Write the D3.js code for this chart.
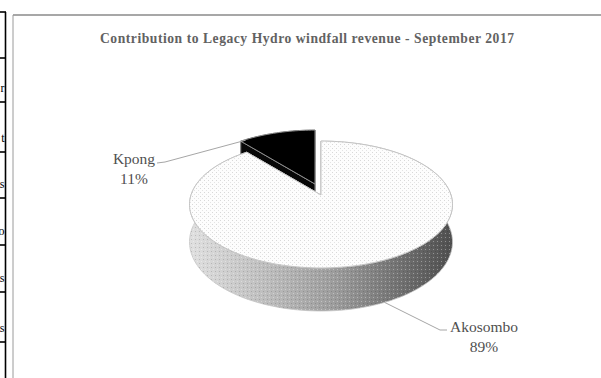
<!DOCTYPE html>
<html>
<head>
<meta charset="utf-8">
<script src="https://cdn.jsdelivr.net/npm/d3@7"></script>
<style>
  body { margin: 0; background: #fff; }
  svg { display: block; }
</style>
</head>
<body>
<script>
//chart data
var categories = ["Akosombo", "Kpong"];
var shares = [89, 11];
var shareLabels = ["89%", "11%"];
var title = "Contribution to Legacy Hydro windfall revenue - September 2017";

//table edge on the left of the page (cut off letters)
var tableRows = [12, 58, 102, 152, 198, 245, 292, 342];
var tableLetters = ["r", "t", "s", "o", "s", "s"];

window.onload = drawChart();

function drawChart(){

    var width = 601,
        height = 378;

    var svg = d3.select('body')
        .append('svg')
        .attr('width', width)
        .attr('height', height);

    var defs = svg.append('defs');

    //dotted pattern like the office fill
    var dots = defs.append('pattern')
        .attr('id', 'dots')
        .attr('width', 4)
        .attr('height', 4)
        .attr('patternUnits', 'userSpaceOnUse');
    dots.append('rect').attr('width', 4).attr('height', 4).attr('fill', '#fdfdfd');
    dots.append('rect').attr('x', 0).attr('y', 0).attr('width', 1).attr('height', 1).attr('fill', '#d8d8d8');
    dots.append('rect').attr('x', 2).attr('y', 2).attr('width', 1).attr('height', 1).attr('fill', '#e4e4e4');

    var dotsDark = defs.append('pattern')
        .attr('id', 'dotsDark')
        .attr('width', 4)
        .attr('height', 4)
        .attr('patternUnits', 'userSpaceOnUse');
    dotsDark.append('rect').attr('x', 1).attr('y', 1).attr('width', 1).attr('height', 1).attr('fill', '#ffffff').attr('opacity', 0.35);
    dotsDark.append('rect').attr('x', 3).attr('y', 3).attr('width', 1).attr('height', 1).attr('fill', '#000000').attr('opacity', 0.15);

    //side shading
    var grad = defs.append('linearGradient')
        .attr('id', 'sideGrad')
        .attr('gradientUnits', 'userSpaceOnUse')
        .attr('x1', 190).attr('x2', 455)
        .attr('y1', 0).attr('y2', 0);
    [[0, '#e0e0e0'], [0.3, '#bcbcbc'], [0.55, '#9c9c9c'], [0.8, '#707070'], [1, '#4d4d4d']].forEach(function(s){
        grad.append('stop').attr('offset', s[0]).attr('stop-color', s[1]);
    });

    //left table edge
    svg.append('line')
        .attr('x1', 5.5).attr('x2', 5.5)
        .attr('y1', tableRows[0]).attr('y2', height)
        .attr('stroke', '#000').attr('stroke-width', 1.6);
    svg.selectAll('.rowLine')
        .data(tableRows)
        .enter()
        .append('line')
        .attr('x1', 0).attr('x2', 6)
        .attr('y1', function(d){ return d; })
        .attr('y2', function(d){ return d; })
        .attr('stroke', '#000').attr('stroke-width', 1.6);
    svg.selectAll('.rowText')
        .data(tableLetters)
        .enter()
        .append('text')
        .attr('x', 4.5)
        .attr('y', function(d, i){ return tableRows[i + 2] - 10; })
        .attr('text-anchor', 'end')
        .attr('font-family', 'Liberation Serif, serif')
        .attr('font-size', 12)
        .attr('fill', '#000')
        .text(function(d){ return d; });

    //chart frame
    svg.append('line')
        .attr('x1', 13).attr('x2', width)
        .attr('y1', 15).attr('y2', 15)
        .attr('stroke', '#8a8a8a').attr('stroke-width', 1.6);
    svg.append('line')
        .attr('x1', 13).attr('x2', 13)
        .attr('y1', 15).attr('y2', height)
        .attr('stroke', '#9a9a9a').attr('stroke-width', 1);

    //title
    svg.append('text')
        .attr('x', 307)
        .attr('y', 43)
        .attr('text-anchor', 'middle')
        .attr('font-family', 'Liberation Serif, serif')
        .attr('font-weight', 'bold')
        .attr('font-size', 13.6)
        .attr('textLength', 414)
        .attr('lengthAdjust', 'spacing')
        .attr('fill', '#626262')
        .text(title);

    //3d pie projection
    var cx = 321, cy = 195, rx = 130, ry = 62, depth = 36.6, persp = 0.15;
    function proj(theta, r, h){
        var u = r * Math.sin(theta),
            v = -r * Math.cos(theta);
        var s = 1 / (1 - persp * v);
        return [cx + rx * u * s, cy + (ry * v + depth * h) * s];
    }

    var pie = d3.pie().sort(null).value(function(d){ return d; });
    var arcs = pie(shares);

    //exploded slice offset
    var explode = [[0, 0], [-6, -11]];

    function arcPts(a0, a1, h){
        var n = Math.max(2, Math.ceil(Math.abs(a1 - a0) / 0.03));
        return d3.range(n + 1).map(function(i){
            return proj(a0 + (a1 - a0) * i / n, 1, h);
        });
    }
    function topPath(d){
        var pts = [proj(0, 0, 0)].concat(arcPts(d.startAngle, d.endAngle, 0));
        return d3.line()(pts) + 'Z';
    }
    function sidePath(d){
        var pts = arcPts(d.startAngle, d.endAngle, 0)
            .concat(arcPts(d.startAngle, d.endAngle, 1).reverse());
        return d3.line()(pts) + 'Z';
    }
    function cutPath(a){
        var pts = [proj(a, 0, 0), proj(a, 1, 0), proj(a, 1, 1), proj(a, 0, 1)];
        return d3.line()(pts) + 'Z';
    }

    var styles = [
        {top: 'url(#dots)', side: 'url(#sideGrad)', cut: '#cfcfcf', stroke: '#c4c4c4'},
        {top: '#000', side: '#000', cut: '#080808', stroke: '#8c8c8c'}
    ];

    //draw back slice first so the big slice covers it
    var order = [1, 0];
    order.forEach(function(i){
        var d = arcs[i],
            st = styles[i];
        var g = svg.append('g')
            .attr('class', 'slice ' + categories[i])
            .attr('transform', 'translate(' + explode[i][0] + ',' + explode[i][1] + ')');
        g.append('path')
            .attr('d', sidePath(d))
            .attr('fill', st.side)
            .attr('stroke', st.stroke).attr('stroke-width', 0.8);
        if (i === 0){
            g.append('path')
                .attr('d', sidePath(d))
                .attr('fill', 'url(#dotsDark)');
        }
        g.append('path')
            .attr('d', cutPath(d.endAngle))
            .attr('fill', st.cut)
            .attr('stroke', st.stroke).attr('stroke-width', 1);
        g.append('path')
            .attr('d', cutPath(d.startAngle))
            .attr('fill', st.cut)
            .attr('stroke', st.stroke).attr('stroke-width', 1);
        g.append('path')
            .attr('d', topPath(d))
            .attr('fill', st.top)
            .attr('stroke', st.stroke).attr('stroke-width', 1);
    });

    //leader lines and labels
    var kp = proj(arcs[1].startAngle + 0.03, 1, 0);
    var ak = proj(155 * Math.PI / 180, 1, 1);
    var leaders = [
        [ak, [440, 330], [447, 330]],
        [[kp[0] + explode[1][0] + 2, kp[1] + explode[1][1]], [165, 162], [157, 163]]
    ];
    svg.selectAll('.leader')
        .data(leaders)
        .enter()
        .append('path')
        .attr('d', function(d){ return d3.line()(d); })
        .attr('fill', 'none')
        .attr('stroke', '#a6a6a6')
        .attr('stroke-width', 1);

    var labelPos = [[484, 332], [134, 164]];
    categories.forEach(function(c, i){
        var t = svg.append('text')
            .attr('text-anchor', 'middle')
            .attr('font-family', 'Liberation Serif, serif')
            .attr('font-size', 15.5)
            .attr('fill', '#505050');
        t.append('tspan')
            .attr('x', labelPos[i][0])
            .attr('y', labelPos[i][1])
            .text(c);
        t.append('tspan')
            .attr('x', labelPos[i][0])
            .attr('y', labelPos[i][1] + 20)
            .text(shareLabels[i]);
    });
}
</script>
</body>
</html>
